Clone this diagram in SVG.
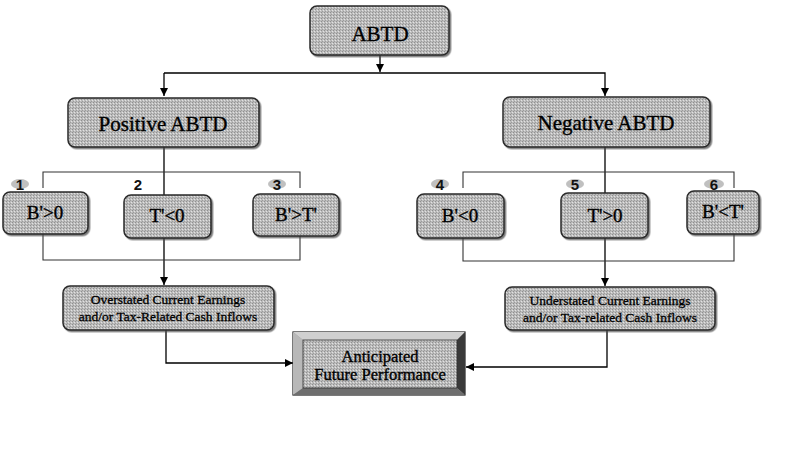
<svg xmlns="http://www.w3.org/2000/svg" width="788" height="460" viewBox="0 0 788 460">
<defs>
<pattern id="dith" width="3" height="3" patternUnits="userSpaceOnUse">
<rect width="3" height="3" fill="#bcbcbc"/>
<rect x="0" y="0" width="1" height="1" fill="#909090"/>
<rect x="2" y="1" width="1" height="1" fill="#e2e2e2"/>
<rect x="1" y="2" width="1" height="1" fill="#9c9c9c"/>
</pattern>
<marker id="arr" viewBox="0 0 10 10" refX="10" refY="5" markerWidth="8" markerHeight="8" markerUnits="userSpaceOnUse" orient="auto">
<path d="M0,0 L10,5 L0,10 z" fill="#000"/>
</marker>
<filter id="sh" x="-10%" y="-10%" width="130%" height="130%">
<feDropShadow dx="1.5" dy="1.5" stdDeviation="0.6" flood-color="#444" flood-opacity="0.7"/>
</filter>
</defs>
<style>
.box{fill:url(#dith);stroke:#2a2a2a;stroke-width:1.5;filter:url(#sh)}
.t{font-family:"Liberation Serif","Times New Roman",serif;fill:#000;stroke:#000;stroke-width:0.35;text-anchor:middle}
.big{font-size:21px}
.mid{font-size:19px}
.sm{font-size:13.5px;stroke-width:0.3}
.num{font-family:"Liberation Sans",Arial,sans-serif;font-size:15px;font-weight:bold;fill:#111;text-anchor:middle}
.blob{fill:#c0c0c0}
.ln{fill:none;stroke:#000;stroke-width:1.3}
.br{fill:none;stroke:#333;stroke-width:1.1}
</style>

<g id="connectors">
<line class="ln" x1="380" y1="55" x2="380" y2="72" marker-end="url(#arr)"/>
<polyline class="ln" points="164,73 605,73 605,96" marker-end="url(#arr)"/>
<line class="ln" x1="164" y1="73" x2="164" y2="96" marker-end="url(#arr)"/>
<line class="ln" x1="164" y1="147" x2="164" y2="285" marker-end="url(#arr)"/>
<line class="ln" x1="605" y1="147" x2="605" y2="286" marker-end="url(#arr)"/>
<polyline class="br" points="43,188 43,172 300,172 300,188"/>
<polyline class="br" points="43,234 43,260 300,260 300,236"/>
<polyline class="br" points="463,188 463,172 734,172 734,188"/>
<polyline class="br" points="463,238 463,261 734,261 734,234"/>
<polyline class="ln" points="166,330 166,363 293,363" marker-end="url(#arr)"/>
<polyline class="ln" points="607,330 607,367 466,367" marker-end="url(#arr)"/>
</g>

<g id="n-abtd">
<rect class="box" x="310" y="6" width="139" height="49" rx="7"/>
<text class="t big" x="380" y="41">ABTD</text>
</g>
<g id="n-positive">
<rect class="box" x="68" y="98" width="191" height="49" rx="7"/>
<text class="t big" x="163" y="131">Positive ABTD</text>
</g>
<g id="n-negative">
<rect class="box" x="503" y="97" width="207" height="50" rx="7"/>
<text class="t big" x="606" y="130">Negative ABTD</text>
</g>

<g id="n-b1">
<ellipse class="blob" cx="20" cy="184" rx="9" ry="5"/>
<text class="num" x="20" y="190">1</text>
<rect class="box" x="3" y="192" width="85" height="42" rx="7"/>
<text class="t mid" x="45" y="219">B'&gt;0</text>
</g>
<g id="n-t2">
<text class="num" x="138" y="190">2</text>
<rect class="box" x="124" y="195" width="87" height="43" rx="7"/>
<text class="t mid" x="167" y="222">T'&lt;0</text>
</g>
<g id="n-b3">
<ellipse class="blob" cx="277" cy="184" rx="9" ry="5"/>
<text class="num" x="277" y="190">3</text>
<rect class="box" x="253" y="194" width="86" height="42" rx="7"/>
<text class="t mid" x="296" y="221">B'&gt;T'</text>
</g>
<g id="n-b4">
<ellipse class="blob" cx="440" cy="184" rx="9" ry="5"/>
<text class="num" x="440" y="190">4</text>
<rect class="box" x="417" y="194" width="87" height="44" rx="7"/>
<text class="t mid" x="460" y="222">B'&lt;0</text>
</g>
<g id="n-t5">
<ellipse class="blob" cx="575" cy="184" rx="9" ry="5"/>
<text class="num" x="575" y="190">5</text>
<rect class="box" x="561" y="193" width="87" height="45" rx="7"/>
<text class="t mid" x="605" y="222">T'&gt;0</text>
</g>
<g id="n-b6">
<ellipse class="blob" cx="714" cy="184" rx="10" ry="5"/>
<text class="num" x="714" y="190">6</text>
<rect class="box" x="687" y="191" width="72" height="43" rx="7"/>
<text class="t mid" x="723" y="218">B'&lt;T'</text>
</g>

<g id="n-over">
<rect class="box" x="63" y="286" width="211" height="44" rx="7"/>
<text class="t sm" x="168" y="304">Overstated Current Earnings</text>
<text class="t sm" x="168" y="321">and/or Tax-Related Cash Inflows</text>
</g>
<g id="n-under">
<rect class="box" x="505" y="287" width="210" height="43" rx="7"/>
<text class="t sm" x="610" y="305">Understated Current Earnings</text>
<text class="t sm" x="610" y="322">and/or Tax-related Cash Inflows</text>
</g>

<g id="n-anticipated">
<rect x="293" y="332" width="172" height="63" fill="#9a9a9a" stroke="#222" stroke-width="1.2"/>
<polygon points="293,332 465,332 457,340 303,340" fill="#d0d0d0"/>
<polygon points="293,332 303,340 303,388 293,395" fill="#b8b8b8"/>
<polygon points="465,332 465,395 457,388 457,340" fill="#3a3a3a"/>
<polygon points="293,395 465,395 457,388 303,388" fill="#6e6e6e"/>
<rect x="303" y="340" width="154" height="48" fill="url(#dith)" stroke="#333" stroke-width="0.8"/>
<text class="t" font-size="16.5" x="380" y="362">Anticipated</text>
<text class="t" font-size="16.5" x="380" y="380">Future Performance</text>
</g>
</svg>
